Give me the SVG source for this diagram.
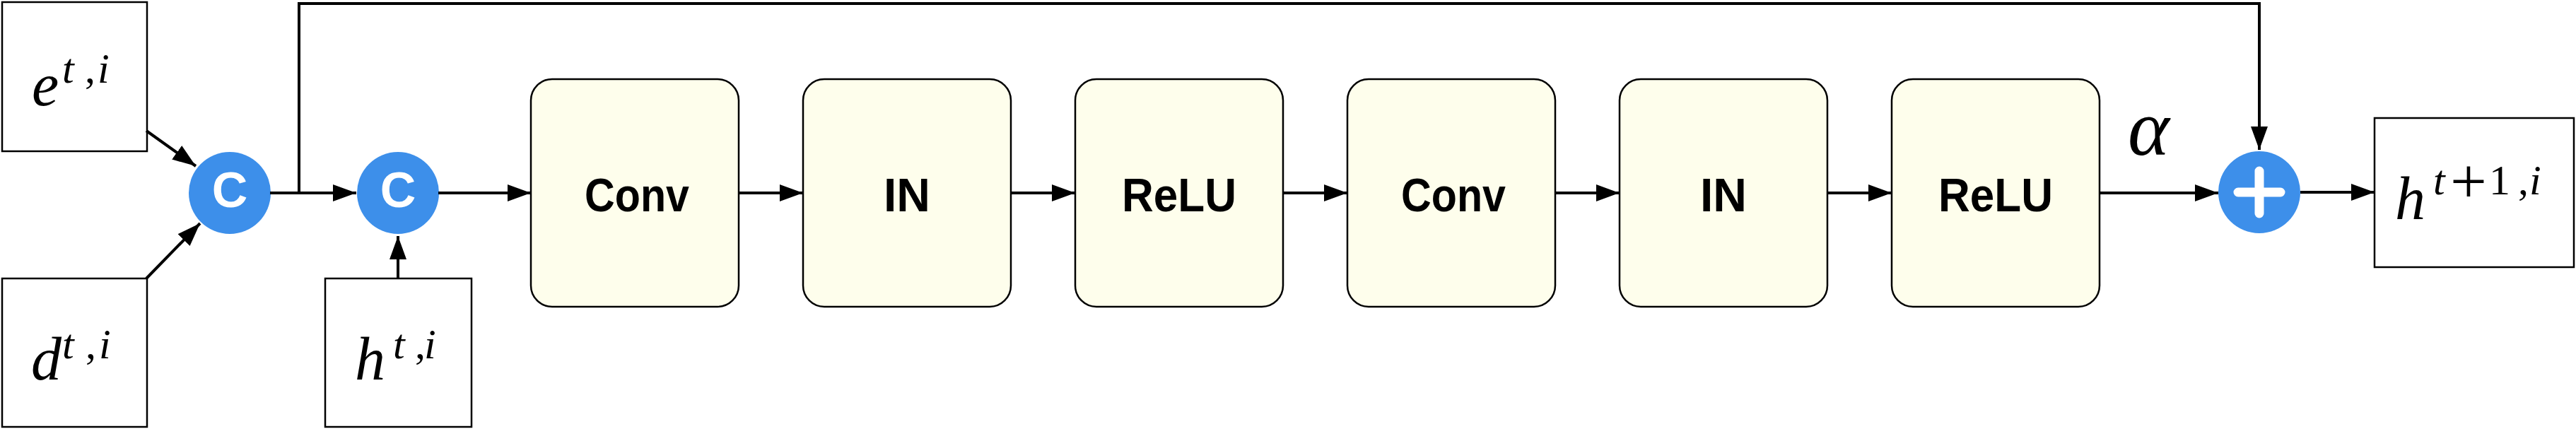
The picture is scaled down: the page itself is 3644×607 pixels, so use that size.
<svg xmlns="http://www.w3.org/2000/svg" width="3644" height="607" viewBox="0 0 3644 607">
<style>
.box{fill:#ffffff;stroke:#000;stroke-width:2.5}
.blk{fill:#fefeec;stroke:#000;stroke-width:2.5}
.lbl{font-family:"Liberation Sans",Arial,sans-serif;font-weight:bold;font-size:66px;fill:#000;text-anchor:middle}
.op{fill:#3d8fea}
.ct{font-family:"Liberation Sans",Arial,sans-serif;font-weight:bold;font-size:70px;fill:#fff;text-anchor:middle}
.m{font-family:"Liberation Serif","Times New Roman",serif;font-style:italic;fill:#000}
.mm{font-size:86px}
.ms{font-size:60px}
.up{font-style:normal}
.ln{fill:none;stroke:#000;stroke-width:4}
</style>
<defs>
<marker id="ah" markerUnits="userSpaceOnUse" markerWidth="34" markerHeight="26" refX="33" refY="12" orient="auto">
<path d="M0,0 L33,12 L0,24 z" fill="#000"/>
</marker>
</defs>
<rect width="3644" height="607" fill="#fff"/>
<g id="e_in">
<rect class="box" x="3" y="3" width="205" height="211"/>
<text class="m"><tspan class="mm" x="45" y="149">e</tspan><tspan class="ms" x="88" y="117">t</tspan><tspan class="ms up" x="120" y="117">,</tspan><tspan class="ms" x="138" y="117">i</tspan></text>
</g>
<g id="d_in">
<rect class="box" x="3" y="394" width="205" height="210"/>
<text class="m"><tspan class="mm" x="44" y="537">d</tspan><tspan class="ms" x="88" y="507">t</tspan><tspan class="ms up" x="121" y="507">,</tspan><tspan class="ms" x="140" y="507">i</tspan></text>
</g>
<g id="h_in">
<rect class="box" x="460" y="394" width="207" height="210"/>
<text class="m"><tspan class="mm" x="502" y="537">h</tspan><tspan class="ms" x="556" y="507">t</tspan><tspan class="ms up" x="587" y="507">,</tspan><tspan class="ms" x="600" y="507">i</tspan></text>
</g>
<g id="concat1">
<circle class="op" cx="325" cy="273" r="58"/>
<text class="ct" x="325" y="293">C</text>
</g>
<g id="concat2">
<circle class="op" cx="563" cy="273" r="58"/>
<text class="ct" x="563" y="293">C</text>
</g>
<g id="conv1"><rect class="blk" x="751" y="112" width="294" height="322" rx="30" ry="30"/><text class="lbl" x="901" y="299" textLength="148" lengthAdjust="spacingAndGlyphs">Conv</text></g>
<g id="in1"><rect class="blk" x="1136" y="112" width="294" height="322" rx="30" ry="30"/><text class="lbl" x="1283" y="299">IN</text></g>
<g id="relu1"><rect class="blk" x="1521" y="112" width="294" height="322" rx="30" ry="30"/><text class="lbl" x="1668" y="299" textLength="162" lengthAdjust="spacingAndGlyphs">ReLU</text></g>
<g id="conv2"><rect class="blk" x="1906" y="112" width="294" height="322" rx="30" ry="30"/><text class="lbl" x="2056" y="299" textLength="148" lengthAdjust="spacingAndGlyphs">Conv</text></g>
<g id="in2"><rect class="blk" x="2291" y="112" width="294" height="322" rx="30" ry="30"/><text class="lbl" x="2438" y="299">IN</text></g>
<g id="relu2"><rect class="blk" x="2676" y="112" width="294" height="322" rx="30" ry="30"/><text class="lbl" x="2823" y="299" textLength="162" lengthAdjust="spacingAndGlyphs">ReLU</text></g>
<g id="add">
<circle class="op" cx="3196" cy="272" r="58"/>
<path d="M3166,272 H3226 M3196,242 V302" stroke="#fff" stroke-width="13" stroke-linecap="round"/>
</g>
<g id="h_out">
<rect class="box" x="3359" y="167" width="282" height="211"/>
<text class="m"><tspan class="mm" x="3388" y="310">h</tspan><tspan class="ms" x="3442" y="275">t</tspan><tspan class="up" font-size="92" x="3466" y="287">+</tspan><tspan class="ms up" x="3521" y="275">1</tspan><tspan class="ms up" x="3562" y="275">,</tspan><tspan class="ms" x="3578" y="275">i</tspan></text>
</g>
<g id="alpha_lbl">
<text class="m" x="3010" y="219" font-size="112">α</text>
</g>
<g id="connectors">
<line class="ln" x1="207" y1="185" x2="277" y2="235" marker-end="url(#ah)"/>
<line class="ln" x1="207" y1="394" x2="283" y2="316" marker-end="url(#ah)"/>
<line class="ln" x1="382" y1="273" x2="504" y2="273" marker-end="url(#ah)"/>
<line class="ln" x1="563" y1="394" x2="563" y2="334" marker-end="url(#ah)"/>
<path class="ln" d="M423,273 V5 H3196 V212" marker-end="url(#ah)"/>
<line class="ln" x1="620" y1="273" x2="751" y2="273" marker-end="url(#ah)"/>
<line class="ln" x1="1045" y1="273" x2="1136" y2="273" marker-end="url(#ah)"/>
<line class="ln" x1="1430" y1="273" x2="1521" y2="273" marker-end="url(#ah)"/>
<line class="ln" x1="1815" y1="273" x2="1906" y2="273" marker-end="url(#ah)"/>
<line class="ln" x1="2200" y1="273" x2="2291" y2="273" marker-end="url(#ah)"/>
<line class="ln" x1="2585" y1="273" x2="2676" y2="273" marker-end="url(#ah)"/>
<line class="ln" x1="2970" y1="273" x2="3138" y2="273" marker-end="url(#ah)"/>
<line class="ln" x1="3254" y1="272" x2="3359" y2="272" marker-end="url(#ah)"/>
</g>
</svg>
